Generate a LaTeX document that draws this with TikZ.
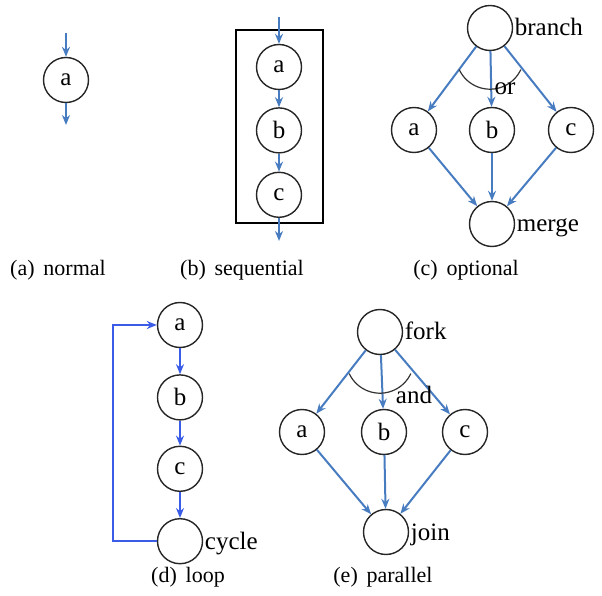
\documentclass[tikz,border=0pt]{standalone}
\usepackage{fontspec}
\setmainfont{Liberation Serif}
\usetikzlibrary{arrows.meta,positioning}
\definecolor[named]{FlowBlue}{RGB}{72,124,192}
\definecolor[named]{LoopBlue}{RGB}{58,92,230}
\tikzset{state/.style ={
        circle,
        draw=black!85,
        line width=1.4pt,
        minimum size=45pt,
        inner sep=0pt,
        font=\fontsize{25}{28}\selectfont
    },
    tag/.style ={
        inner sep=1.5pt,
        font=\fontsize{25}{28}\selectfont
    },
    side/.style ={
        tag,
        anchor=base west,
        yshift=-8pt
    },
    subcap/.style ={
        inner sep=0pt,
        font=\fontsize{22}{25}\selectfont
    },
    flow/.style ={
        draw=FlowBlue,
        line width=2pt,
        -{Stealth[length=10pt,width=8pt]}
    },
    loopflow/.style ={
        draw=LoopBlue,
        line width=2pt,
        -{Stealth[length=10pt,width=8pt]}
    },
    choice/.style ={
        draw=black!80,
        line width=1.2pt
    },
    box/.style ={
        draw=black,
        line width=1.3pt
    }}
\begin{document}
\begin{tikzpicture}[x=1pt,y=1pt]
    \useasboundingbox (0,0) rectangle (602,595);

    % (a) normal
    \node (na)[state] at (66,515) {a};
    \coordinate (na-in) at (66,562);
    \coordinate (na-out) at (66,470);
    \draw[flow] (na-in) -- (na);
    \draw[flow] (na) -- (na-out);
    \node (capa)[subcap] at (58,325) {(a)\hspace{0.4em}normal};

    % (b) sequential
    \draw[box] (236,372) rectangle (323,565);
    \node (sa)[state] at (279,528) {a};
    \node (sb)[state,below=17pt of sa] {b};
    \node (sc)[state,below=18pt of sb] {c};
    \coordinate (sa-in) at (279,578);
    \coordinate (sc-out) at (279,354);
    \draw[flow] (sa-in) -- (sa);
    \draw[flow] (sa) -- (sb);
    \draw[flow] (sb) -- (sc);
    \draw[flow] (sc) -- (sc-out);
    \node (capb)[subcap] at (242,325) {(b)\hspace{0.4em}sequential};

    % (c) optional
    \node (branch)[state,label={[side]right:branch}] at (490,567) {};
    \node (oa)[state] at (414,465) {a};
    \node (ob)[state] at (492,465) {b};
    \node (oc)[state] at (571,465) {c};
    \node (merge)[state,label={[side]right:merge}] at (492,371) {};
    \foreach \n in {oa,ob,oc} {
        \draw[flow] (branch) -- (\n);
        \draw[flow] (\n) -- (merge);
    }
    \draw[choice] ([yshift=-4pt]branch.south) ++(205:34) arc[start angle=205, end angle=335, radius=34];
    \node (orlbl)[tag] at (505,506) {or};
    \node (capc)[subcap] at (466,325) {(c)\hspace{0.4em}optional};

    % (d) loop
    \node (la)[state] at (180,270) {a};
    \node (lb)[state,below=26pt of la] {b};
    \node (lc)[state,below=25pt of lb] {c};
    \node (cycle)[state,below=26pt of lc,label={[side]right:cycle}] {};
    \draw[loopflow] (la) -- (lb);
    \draw[loopflow] (lb) -- (lc);
    \draw[loopflow] (lc) -- (cycle);
    \draw[loopflow] (cycle.west) -| ([xshift=-43.5pt]la.west) -- (la.west);
    \node (capd)[subcap] at (188,18) {(d)\hspace{0.4em}loop};

    % (e) parallel
    \node (fork)[state,label={[side]right:fork}] at (380,263) {};
    \node (pa)[state] at (302,163) {a};
    \node (pb)[state] at (384,163) {b};
    \node (pc)[state] at (465,163) {c};
    \node (join)[state,label={[side]right:join}] at (386,63) {};
    \foreach \n in {pa,pb,pc} {
        \draw[flow] (fork) -- (\n);
        \draw[flow] (\n) -- (join);
    }
    \draw[choice] ([yshift=-4pt]fork.south) ++(205:34) arc[start angle=205, end angle=335, radius=34];
    \node (andlbl)[tag] at (414,200) {and};
    \node (cape)[subcap] at (383,18) {(e)\hspace{0.4em}parallel};
\end{tikzpicture}
\end{document}
